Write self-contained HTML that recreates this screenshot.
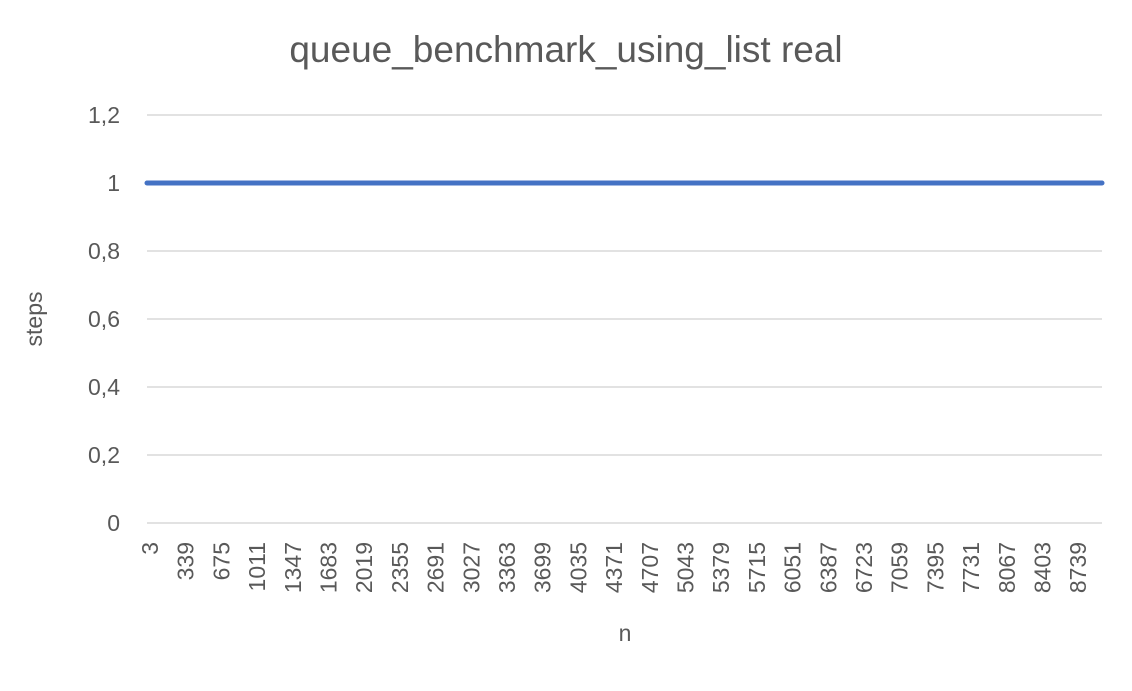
<!DOCTYPE html>
<html><head><meta charset="utf-8"><style>
body{margin:0;background:#fff;font-family:"Liberation Sans",sans-serif;}
svg text{font-family:"Liberation Sans",sans-serif;fill:#595959;}
</style></head><body>
<svg id="chart" width="1132" height="686" xmlns="http://www.w3.org/2000/svg">
<rect width="1132" height="686" fill="#fff"/>
<text x="566" y="62" text-anchor="middle" font-size="37">queue_benchmark_using_list real</text>
<text transform="translate(42,319) rotate(-90)" text-anchor="middle" font-size="23">steps</text>
<text x="625" y="641" text-anchor="middle" font-size="23">n</text>
<g id="grid"></g><g id="yticks"></g><g id="xticks"></g><g id="series"></g>
</svg>
<script>
const xLabels=[3,339,675,1011,1347,1683,2019,2355,2691,3027,3363,3699,4035,4371,4707,5043,5379,5715,6051,6387,6723,7059,7395,7731,8067,8403,8739];
const nValues=[-25,3,339,675,1011,1347,1683,2019,2355,2691,3027,3363,3699,4035,4371,4707,5043,5379,5715,6051,6387,6723,7059,7395,7731,8067,8403,8739,8963];
const stepsValues=[1,1,1,1,1,1,1,1,1,1,1,1,1,1,1,1,1,1,1,1,1,1,1,1,1,1,1,1,1];
const yTicks=[0,0.2,0.4,0.6,0.8,1,1.2];
const yTickLabels=["0","0,2","0,4","0,6","0,8","1","1,2"];
const L=147,R=1102,T=115,B=523;
const x=n=>L+(n-(-25))*(R-L)/(8963-(-25));
const y=v=>B-v*(B-T)/1.2;
const NS="http://www.w3.org/2000/svg";
function mk(tag,attrs,parent,txt){const e=document.createElementNS(NS,tag);for(const k in attrs)e.setAttribute(k,attrs[k]);if(txt!==undefined)e.textContent=txt;document.getElementById(parent).appendChild(e);return e;}
yTicks.forEach((v,i)=>{
  const g=mk('line',{x1:L,x2:R,y1:y(v),y2:y(v),stroke:'#d9d9d9','stroke-width':1.5},'grid');
  
  
  const t=mk('text',{x:120,y:y(v)+8,'text-anchor':'end','font-size':23},'yticks',yTickLabels[i]);
  
  
});
xLabels.forEach(n=>{
  const t=mk('text',{transform:`translate(${x(n)+8},542) rotate(-90)`,'text-anchor':'end','font-size':23},'xticks',String(n));
  
  
});
const pts=nValues.map((n,i)=>x(n)+','+y(stepsValues[i])).join(' ');
const pl=mk('polyline',{points:pts,fill:'none',stroke:'#4472c4','stroke-width':5,'stroke-linecap':'round'},'series');


</script>
</body></html>
